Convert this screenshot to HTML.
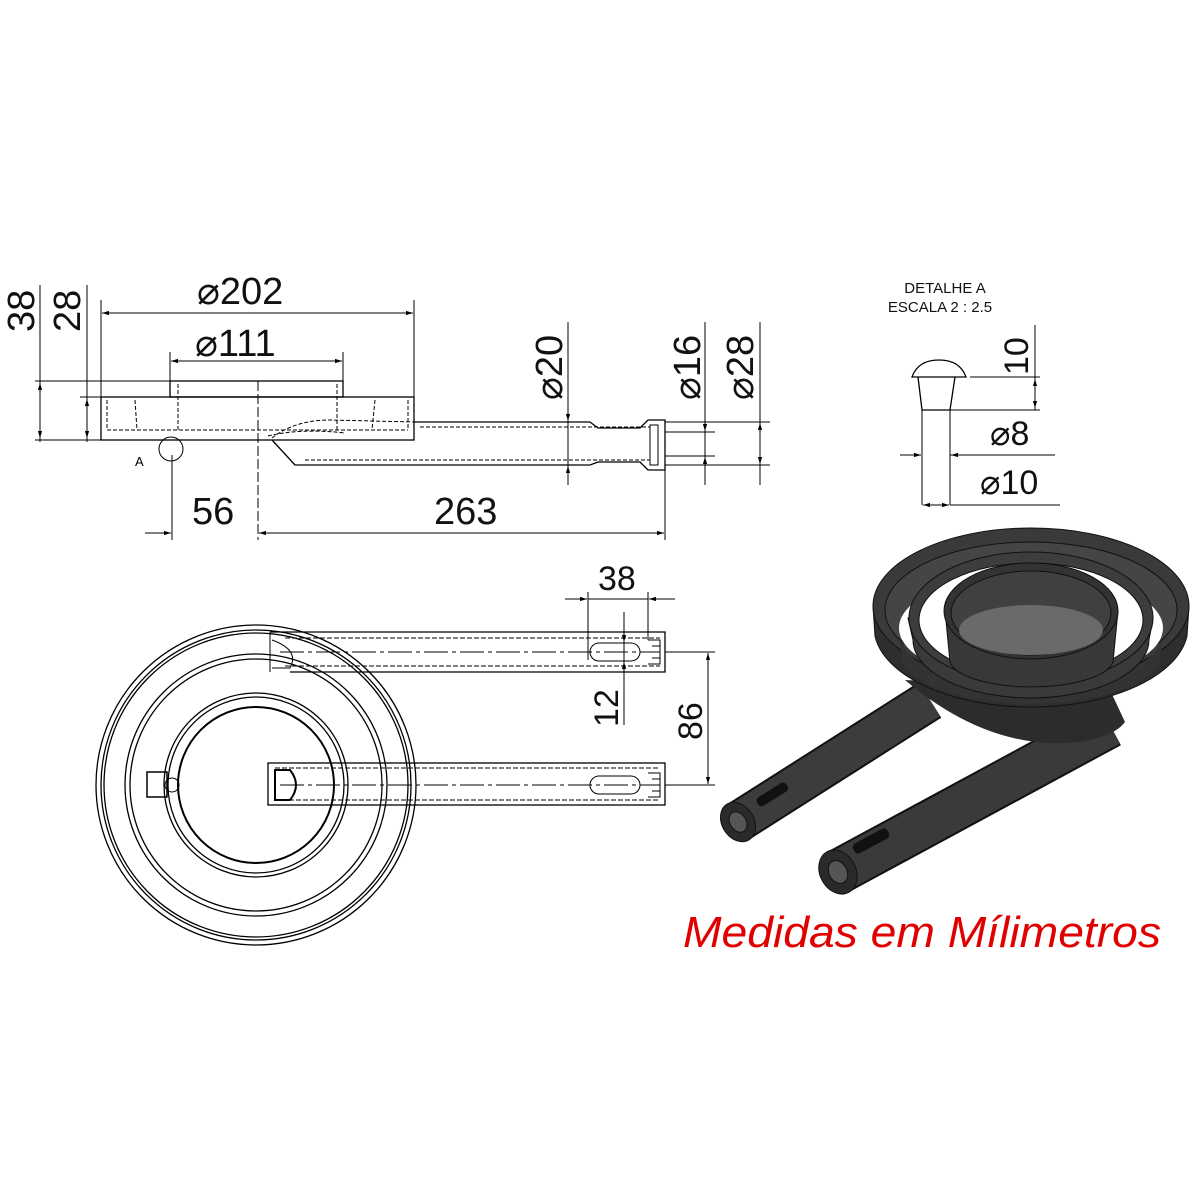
<!DOCTYPE html>
<html><head><style>body{margin:0;background:#fff}svg{display:block}</style></head><body>
<svg width="1200" height="1200" viewBox="0 0 1200 1200" xmlns="http://www.w3.org/2000/svg" font-family="Liberation Sans, sans-serif">
<defs>
<marker id="a" viewBox="0 0 10 10" refX="10" refY="5" markerWidth="7" markerHeight="7" orient="auto-start-reverse"><path d="M0,2 L10,5 L0,8z" fill="#000"/></marker>
</defs>
<g stroke="#000" fill="none" stroke-width="1">
<!-- SIDE VIEW -->
<line x1="40" y1="285" x2="40" y2="442"/><line x1="87" y1="285" x2="87" y2="442"/>
<line x1="35" y1="381" x2="170" y2="381"/><line x1="80" y1="397" x2="101" y2="397"/><line x1="35" y1="440" x2="101" y2="440"/>
<line x1="40" y1="383" x2="40" y2="438" marker-start="url(#a)" marker-end="url(#a)"/>
<line x1="87" y1="399" x2="87" y2="438" marker-start="url(#a)" marker-end="url(#a)"/>
<line x1="101" y1="300" x2="101" y2="397"/><line x1="414" y1="300" x2="414" y2="397"/>
<line x1="102" y1="313" x2="413" y2="313" marker-start="url(#a)" marker-end="url(#a)"/>
<line x1="170" y1="352" x2="170" y2="381"/><line x1="343" y1="352" x2="343" y2="381"/>
<line x1="171" y1="361" x2="342" y2="361" marker-start="url(#a)" marker-end="url(#a)"/>
<rect x="101" y="397" width="313" height="43" stroke-width="1.3"/>
<rect x="170" y="381" width="173" height="16" stroke-width="1.3"/>
<g stroke-dasharray="4,2">
<line x1="107" y1="430" x2="408" y2="430"/><line x1="107" y1="400" x2="107" y2="430"/><line x1="408" y1="400" x2="408" y2="430"/>
<line x1="178" y1="384" x2="178" y2="430"/><line x1="337" y1="384" x2="337" y2="430"/>
<line x1="135" y1="400" x2="137" y2="430"/><line x1="375" y1="400" x2="372" y2="430"/>
<path d="M272,438 Q295,420 330,420 L414,422"/><path d="M268,436 Q300,428 345,433"/>
<line x1="420" y1="427" x2="650" y2="427"/><line x1="305" y1="460" x2="650" y2="460"/>
</g>
<line x1="258" y1="381" x2="258" y2="540" stroke-dasharray="10,3"/>
<path d="M414,422 L590,422 L598,428 L640,428 L648,420 L665,420 L665,470 L648,470 L640,462 L598,462 L590,465 L295,465 L272,440" stroke-width="1.3"/>
<rect x="650" y="425" width="8" height="40"/>
<circle cx="171" cy="449" r="12"/>
<text x="135" y="466" font-size="13" fill="#000" stroke="none">A</text>
<line x1="172" y1="455" x2="172" y2="540"/><line x1="665" y1="470" x2="665" y2="540"/>
<line x1="145" y1="533" x2="171" y2="533" marker-end="url(#a)"/>
<line x1="259" y1="533" x2="664" y2="533" marker-start="url(#a)" marker-end="url(#a)"/>
<line x1="568" y1="322" x2="568" y2="485"/><line x1="705" y1="322" x2="705" y2="485"/><line x1="760" y1="322" x2="760" y2="485"/>
<line x1="665" y1="422" x2="770" y2="422"/><line x1="665" y1="465" x2="770" y2="465"/>
<line x1="665" y1="432" x2="715" y2="432"/><line x1="665" y1="456" x2="715" y2="456"/>
<line x1="568" y1="405" x2="568" y2="421" marker-end="url(#a)"/><line x1="568" y1="483" x2="568" y2="466" marker-end="url(#a)"/>
<line x1="705" y1="415" x2="705" y2="431" marker-end="url(#a)"/><line x1="705" y1="473" x2="705" y2="457" marker-end="url(#a)"/>
<line x1="760" y1="423" x2="760" y2="464" marker-start="url(#a)" marker-end="url(#a)"/>

<!-- TOP VIEW -->
<g stroke-width="1.3">
<circle cx="256" cy="785" r="160"/><circle cx="256" cy="785" r="155"/><circle cx="256" cy="785" r="152"/>
<circle cx="256" cy="785" r="131"/><circle cx="256" cy="785" r="126"/>
<circle cx="256" cy="785" r="92"/><circle cx="256" cy="785" r="88"/><circle cx="256" cy="785" r="78" stroke-width="2"/>
</g>
<path d="M270,632 L665,632 L665,672 L290,672" stroke-width="1.3"/><line x1="270" y1="632" x2="270" y2="672"/>
<path d="M272,640 Q300,650 290,668 L272,668" />
<rect x="268" y="763" width="397" height="42" stroke-width="1.3"/>
<path d="M275,770 L290,770 Q302,785 290,800 L275,800z" stroke-width="2"/>
<rect x="147" y="772" width="20" height="25" stroke-width="1.5"/><circle cx="172" cy="785" r="7"/>
<g stroke-dasharray="5,2"><line x1="285" y1="638" x2="660" y2="638"/><line x1="285" y1="666" x2="660" y2="666"/>
<line x1="275" y1="768" x2="660" y2="768"/><line x1="275" y1="800" x2="660" y2="800"/></g>
<g stroke-dasharray="24,4,4,4"><line x1="280" y1="652" x2="660" y2="652"/><line x1="280" y1="785" x2="660" y2="785"/></g>
<rect x="590" y="643" width="50" height="18" rx="9"/><rect x="590" y="776" width="50" height="18" rx="9"/>
<path d="M648,640 L660,640 L660,664 L648,664 M652,646h8 M652,652h8 M652,658h8"/>
<path d="M648,773 L660,773 L660,797 L648,797 M652,779h8 M652,785h8 M652,791h8"/>
<line x1="588" y1="592" x2="588" y2="660"/><line x1="648" y1="592" x2="648" y2="640"/>
<line x1="565" y1="599" x2="587" y2="599" marker-end="url(#a)"/><line x1="675" y1="599" x2="649" y2="599" marker-end="url(#a)"/>
<line x1="588" y1="599" x2="648" y2="599"/>
<line x1="624" y1="612" x2="624" y2="725"/>
<line x1="624" y1="620" x2="624" y2="642" marker-end="url(#a)"/><line x1="624" y1="680" x2="624" y2="662" marker-end="url(#a)"/>
<line x1="665" y1="652" x2="715" y2="652"/><line x1="665" y1="785" x2="715" y2="785"/>
<line x1="708" y1="653" x2="708" y2="784" marker-start="url(#a)" marker-end="url(#a)"/>

<!-- DETAIL A -->
<path d="M912,377 Q918,360 939,360 Q960,360 966,377 Z" stroke-width="1.3"/>
<path d="M918,377 L922,410 L950,410 L955,377" stroke-width="1.3"/>
<line x1="922" y1="410" x2="922" y2="505"/><line x1="950" y1="410" x2="950" y2="505"/>
<line x1="970" y1="377" x2="1040" y2="377"/><line x1="950" y1="410" x2="1040" y2="410"/>
<line x1="1035" y1="325" x2="1035" y2="410"/>
<line x1="1035" y1="379" x2="1035" y2="408" marker-start="url(#a)" marker-end="url(#a)"/>
<line x1="900" y1="455" x2="921" y2="455" marker-end="url(#a)"/><line x1="975" y1="455" x2="951" y2="455" marker-end="url(#a)"/>
<line x1="950" y1="455" x2="1055" y2="455"/>
<line x1="923" y1="505" x2="949" y2="505" marker-start="url(#a)" marker-end="url(#a)"/>
<line x1="950" y1="505" x2="1060" y2="505"/>
</g>

<g fill="#111" font-size="38">
<text x="197" y="304">⌀202</text>
<text x="195" y="356">⌀111</text>
<text x="192" y="524">56</text>
<text x="434" y="524">263</text>
<text transform="translate(34,332) rotate(-90)">38</text>
<text transform="translate(80,332) rotate(-90)">28</text>
<text transform="translate(562,400) rotate(-90)">⌀20</text>
<text transform="translate(700,400) rotate(-90)">⌀16</text>
<text transform="translate(753,400) rotate(-90)">⌀28</text>
<text x="598" y="590" font-size="34">38</text>
<text transform="translate(618,727) rotate(-90)" font-size="34">12</text>
<text transform="translate(702,740) rotate(-90)" font-size="34">86</text>
<text transform="translate(1028,375) rotate(-90)" font-size="34">10</text>
<text x="990" y="445" font-size="34">⌀8</text>
<text x="980" y="494" font-size="34">⌀10</text>
<text x="945" y="293" font-size="15" text-anchor="middle">DETALHE A</text>
<text x="940" y="312" font-size="15" text-anchor="middle">ESCALA 2 : 2.5</text>
</g>

<!-- 3D RENDER -->
<g stroke="#111" stroke-width="1">
<line x1="930" y1="700" x2="738" y2="822" stroke="#111" stroke-width="42"/>
<line x1="930" y1="700" x2="738" y2="822" stroke="#3c3c3c" stroke-width="38"/>
<line x1="1110" y1="725" x2="838" y2="872" stroke="#111" stroke-width="46"/>
<line x1="1110" y1="725" x2="838" y2="872" stroke="#3a3a3a" stroke-width="42"/>
<ellipse cx="738" cy="822" rx="16" ry="21" transform="rotate(-32 738 822)" fill="#2a2a2a"/>
<ellipse cx="738" cy="822" rx="8" ry="11" transform="rotate(-32 738 822)" fill="#555"/>
<rect x="755" y="790" width="34" height="9" rx="4" transform="rotate(-32 772 794)" fill="#111"/>
<ellipse cx="838" cy="872" rx="18" ry="23" transform="rotate(-28 838 872)" fill="#2a2a2a"/>
<ellipse cx="838" cy="872" rx="9" ry="12" transform="rotate(-28 838 872)" fill="#555"/>
<rect x="852" y="836" width="38" height="10" rx="4" transform="rotate(-28 871 841)" fill="#111"/>
<path d="M905,680 Q990,752 1080,742 Q1115,736 1125,722 L1110,690 Z" fill="#2c2c2c" stroke="none"/>
<path d="M873,606 L875,636 A157,80 0 0 0 1187,636 L1189,606 Z" fill="#2e2e2e"/>
<ellipse cx="1031" cy="606" rx="158" ry="78" fill="#3a3a3a"/>
<ellipse cx="1031" cy="610" rx="146" ry="68" fill="#454545"/>
<ellipse cx="1031" cy="628" rx="132" ry="55" fill="#fff" stroke="none"/>
<path d="M900,640 A132,55 0 0 0 1162,640 L1160,660 A130,50 0 0 1 902,660 Z" fill="#333" stroke="none"/>
<path d="M908,618 L913,640 A118,58 0 0 0 1149,640 L1153,618 Z" fill="#3a3a3a"/>
<ellipse cx="1031" cy="618" rx="122" ry="66" fill="#3d3d3d"/>
<ellipse cx="1031" cy="620" rx="112" ry="57" fill="#fff"/>
<path d="M945,611 L950,662 A82,28 0 0 0 1113,662 L1118,611 Z" fill="#383838"/>
<ellipse cx="1031" cy="611" rx="87" ry="48" fill="#333"/>
<ellipse cx="1031" cy="613" rx="80" ry="42" fill="#404040"/>
<ellipse cx="1031" cy="630" rx="72" ry="25" fill="#6a6a6a" stroke="none"/>
</g>

<text x="683" y="947" font-size="44" font-style="italic" fill="#e00000" textLength="478" lengthAdjust="spacingAndGlyphs">Medidas em Mílimetros</text>
</svg>
</body></html>
